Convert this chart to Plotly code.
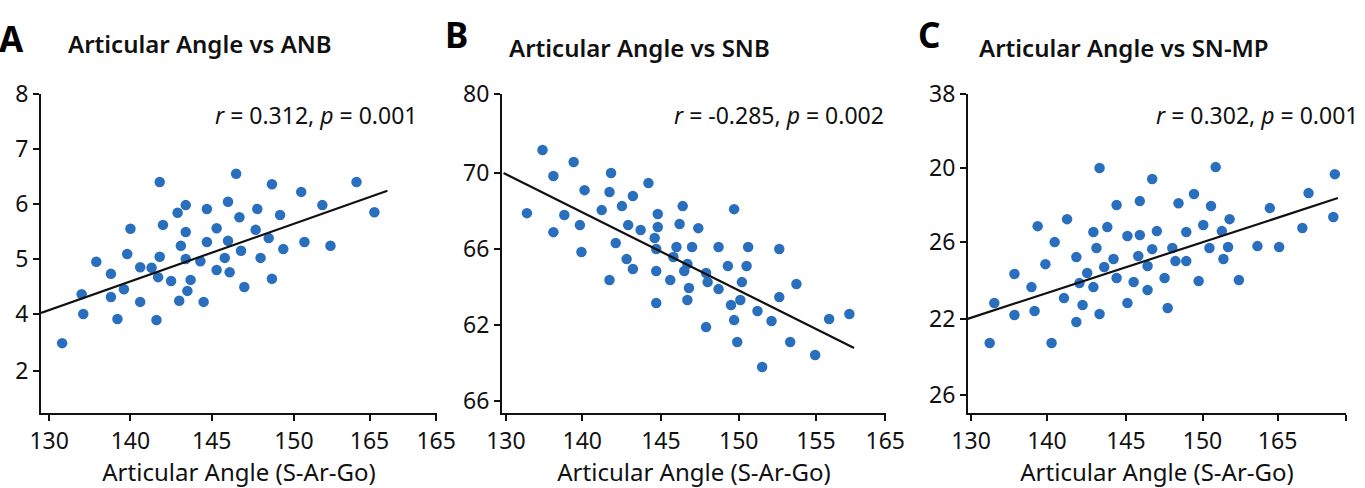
import plotly.graph_objects as go

# ---------------- Data ----------------
# Panel A: Articular Angle vs ANB
a_x = [135.8, 137.0, 137.1, 137.9, 138.8, 138.8, 139.2, 139.6, 139.8, 140.0,
       140.6, 140.6, 141.3, 141.6, 141.7, 141.8, 141.8, 142.0, 142.5, 142.9,
       143.0, 143.1, 143.4, 143.4, 143.4, 143.5, 143.7, 144.3, 144.5, 144.7,
       144.7, 145.3, 145.3, 145.8, 146.0, 146.0, 146.1, 146.5, 146.7, 146.8,
       147.0, 147.7, 147.8, 148.0, 148.5, 148.7, 148.7, 149.2, 149.4, 150.5,
       150.7, 151.8, 152.3, 153.9, 155.0]
a_y = [3.47, 4.36, 4.00, 4.95, 4.73, 4.31, 3.91, 4.45, 5.09, 5.55,
       4.85, 4.22, 4.84, 3.89, 4.67, 5.04, 6.40, 5.62, 4.60, 5.84,
       4.24, 5.24, 5.98, 5.00, 5.49, 4.42, 4.62, 4.96, 4.22, 5.91,
       5.31, 5.56, 4.80, 5.02, 5.33, 6.04, 4.76, 6.55, 5.76, 5.15,
       4.49, 5.53, 5.91, 5.02, 5.38, 6.36, 4.64, 5.80, 5.18, 6.22,
       5.31, 5.98, 5.24, 6.40, 5.85]
a_fit_x = [134.5, 155.8]
a_fit_y = [4.02, 6.24]

# Panel B: Articular Angle vs SNB
b_x = [137.4, 139.4, 138.1, 141.8, 144.2, 140.1, 143.2, 141.7, 142.5, 146.4,
       149.7, 136.4, 138.8, 141.2, 144.8, 139.8, 142.9, 146.2, 143.7, 144.8,
       147.4, 138.1, 144.6, 142.1, 146.0, 147.0, 148.7, 150.6, 152.6, 139.9,
       144.7, 142.8, 143.2, 144.7, 145.8, 146.7, 146.5, 141.7, 145.6, 147.9,
       148.0, 148.7, 146.8, 149.3, 150.5, 150.2, 152.6, 153.7, 144.7, 146.7,
       149.5, 150.1, 151.2, 152.1, 149.7, 147.9, 149.9, 153.3, 155.8, 157.1,
       154.9, 151.5]
b_y = [71.21, 70.58, 69.84, 70.00, 69.47, 69.10, 68.79, 69.00, 68.26, 68.26,
       68.10, 67.89, 67.79, 68.05, 67.84, 67.26, 67.26, 67.32, 67.00, 67.16,
       67.10, 66.89, 66.58, 66.32, 66.11, 66.11, 66.11, 66.11, 66.00, 65.84,
       66.00, 65.47, 64.95, 64.84, 65.58, 65.21, 64.84, 64.37, 64.37, 64.74,
       64.26, 63.89, 63.95, 65.11, 65.11, 64.26, 63.47, 64.16, 63.16, 63.32,
       63.05, 63.32, 62.74, 62.21, 62.26, 61.89, 61.11, 61.11, 62.32, 62.58,
       60.42, 59.79]
b_fit_x = [134.9, 157.4]
b_fit_y = [70.0, 60.79]

# Panel C: Articular Angle vs SN-MP
c_x = [143.3, 150.8, 146.7, 158.5, 156.8, 149.4, 144.4, 145.9, 148.4, 150.5,
       154.3, 139.3, 141.2, 143.8, 142.9, 145.1, 145.9, 147.0, 148.9, 150.0,
       151.2, 151.7, 156.4, 158.4, 140.4, 143.1, 146.7, 148.0, 150.4, 151.6,
       153.5, 154.9, 141.8, 144.2, 145.8, 148.2, 148.9, 151.3, 139.8, 146.4,
       143.6, 142.5, 137.8, 144.4, 147.5, 145.5, 149.7, 152.3, 142.0, 142.9,
       138.9, 146.4, 141.0, 136.5, 142.2, 145.1, 139.1, 137.8, 143.3, 147.7,
       141.8, 136.2, 140.2]
c_y = [29.95, 30.00, 29.37, 29.63, 28.63, 28.58, 28.00, 28.21, 28.10, 27.95,
       27.84, 26.89, 27.26, 26.84, 26.58, 26.37, 26.42, 26.63, 26.58, 26.95,
       26.63, 27.26, 26.79, 27.37, 26.05, 25.74, 25.68, 25.74, 25.74, 25.79,
       25.84, 25.79, 25.26, 25.16, 25.32, 25.05, 25.05, 25.16, 24.89, 24.79,
       24.74, 24.42, 24.37, 24.16, 24.16, 23.95, 24.00, 24.05, 23.89, 23.68,
       23.68, 23.53, 23.10, 22.84, 22.74, 22.84, 22.42, 22.21, 22.26, 22.58,
       21.84, 20.74, 20.74]
c_fit_x = [134.75, 158.7]
c_fit_y = [22.0, 28.37]

# Tick positions / labels (as printed on the original figure)
a_xtick_vals = [135.0, 140.0, 145.0, 150.05, 154.7, 158.8]
a_xtick_text = ["130", "140", "145", "150", "165", "165"]
a_ytick_vals = [8, 7, 6, 5, 4, 2.97]
a_ytick_text = ["8", "7", "6", "5", "4", "2"]

b_xtick_vals = [135.05, 139.95, 145.0, 150.0, 154.95, 159.4]
b_xtick_text = ["130", "140", "145", "150", "155", "165"]
b_ytick_vals = [74.15, 70, 66, 62, 58.0]
b_ytick_text = ["80", "70", "66", "62", "66"]

c_xtick_vals = [135.0, 139.9, 145.0, 149.95, 154.8, 159.2]
c_xtick_text = ["130", "140", "145", "150", "165", "165"]
c_ytick_vals = [33.84, 29.95, 26.05, 22.0, 18.0]
c_ytick_text = ["38", "20", "26", "22", "26"]

panel_letters = ["A", "B", "C"]
panel_titles = ["Articular Angle vs ANB", "Articular Angle vs SNB", "Articular Angle vs SN-MP"]
stats_text = ["<i>r</i> = 0.312, <i>p</i> = 0.001",
              "<i>r</i> = -0.285, <i>p</i> = 0.002",
              "<i>r</i> = 0.302, <i>p</i> = 0.001"]
x_title = "Articular Angle (S-Ar-Go)"

# ---------------- Styling ----------------
W, H = 1365, 488
FONT = "Noto Sans"
DOT = "#2a6fbd"
INK = "#111111"

fig = go.Figure()

panels = [
    (a_x, a_y, a_fit_x, a_fit_y, "x", "y"),
    (b_x, b_y, b_fit_x, b_fit_y, "x2", "y2"),
    (c_x, c_y, c_fit_x, c_fit_y, "x3", "y3"),
]
for px_, py_, fx, fy, xa, ya in panels:
    fig.add_trace(go.Scatter(x=px_, y=py_, mode="markers", xaxis=xa, yaxis=ya,
                             marker=dict(color=DOT, size=10.5, line=dict(width=0)),
                             showlegend=False, cliponaxis=False))
    fig.add_trace(go.Scatter(x=fx, y=fy, mode="lines", xaxis=xa, yaxis=ya,
                             line=dict(color=INK, width=2.2), showlegend=False))

# pixel-based domains
x_domains = [(41, 437), (502, 886), (968, 1346)]
y_dom = [1 - 413 / H, 1 - 94 / H]
x_ranges = [(134.5, 158.85), (134.8, 159.45), (134.8, 159.22)]
y_ranges = [(2.2, 8.0), (57.37, 74.16), (17.05, 33.85)]
xticks = [(a_xtick_vals, a_xtick_text), (b_xtick_vals, b_xtick_text), (c_xtick_vals, c_xtick_text)]
yticks = [(a_ytick_vals, a_ytick_text), (b_ytick_vals, b_ytick_text), (c_ytick_vals, c_ytick_text)]

axis_common = dict(showline=True, linecolor=INK, linewidth=2, ticks="outside",
                   ticklen=6, tickwidth=2, tickcolor=INK, showgrid=False, zeroline=False,
                   tickfont=dict(family=FONT, size=23, color=INK), mirror=False,
                   automargin=False)

layout = dict(width=W, height=H, margin=dict(l=0, r=0, t=0, b=0, autoexpand=False),
              paper_bgcolor="white", plot_bgcolor="white",
              font=dict(family=FONT, color=INK))
for i in range(3):
    sfx = "" if i == 0 else str(i + 1)
    xd = x_domains[i]
    layout["xaxis" + sfx] = dict(axis_common, domain=[xd[0] / W, xd[1] / W],
                                 range=list(x_ranges[i]), anchor="y" + sfx,
                                 tickmode="array", tickvals=xticks[i][0], ticktext=xticks[i][1],
                                 title=dict(text=x_title, font=dict(family=FONT, size=24, color=INK),
                                            standoff=15))
    layout["yaxis" + sfx] = dict(axis_common, domain=y_dom, range=list(y_ranges[i]),
                                 anchor="x" + sfx, tickmode="array",
                                 tickvals=yticks[i][0], ticktext=yticks[i][1])
fig.update_layout(**layout)

letter_pos = [(-3, 38), (443, 34), (916, 34)]
title_pos = [(66, 44), (507, 47), (977, 47)]
stats_pos = [(419, 115), (886, 115), (1360, 115)]
anns = []
for i in range(3):
    anns.append(dict(text="<b>%s</b>" % panel_letters[i], x=letter_pos[i][0] / W, y=1 - letter_pos[i][1] / H,
                     xref="paper", yref="paper", xanchor="left", yanchor="middle", showarrow=False,
                     font=dict(family=FONT, size=35, color="#000000")))
    anns.append(dict(text=panel_titles[i], x=title_pos[i][0] / W, y=1 - title_pos[i][1] / H,
                     xref="paper", yref="paper", xanchor="left", yanchor="middle", showarrow=False,
                     font=dict(family=FONT, size=24, color=INK, weight=600)))
    anns.append(dict(text=stats_text[i], x=stats_pos[i][0] / W, y=1 - stats_pos[i][1] / H,
                     xref="paper", yref="paper", xanchor="right", yanchor="middle", showarrow=False,
                     font=dict(family=FONT, size=23, color=INK)))
fig.update_layout(annotations=anns)

fig.write_html("out.html", config={"displayModeBar": False},
               post_script="document.body.style.margin='0px';document.body.style.overflow='hidden';")
